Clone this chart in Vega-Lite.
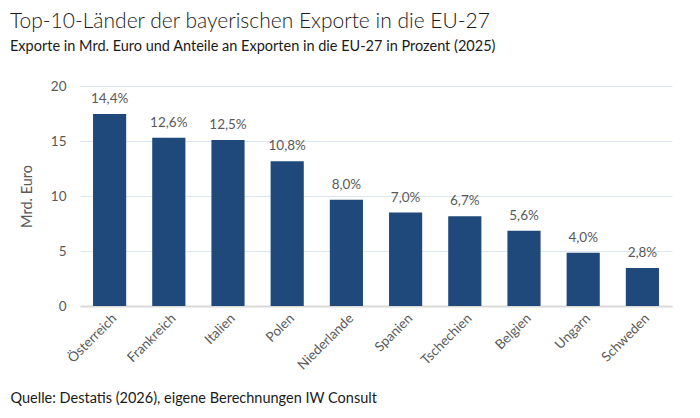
{
  "$schema": "https://vega.github.io/schema/vega-lite/v6.json",
  "width": 592,
  "height": 220,
  "autosize": {"type": "none"},
  "padding": {"left": 80, "top": 86, "right": 28, "bottom": 112},
  "background": "white",
  "config": {
    "font": "Lato",
    "view": {"stroke": null}
  },
  "title": {
    "text": "Top-10-Länder der bayerischen Exporte in die EU-27",
    "subtitle": "Exporte in Mrd. Euro und Anteile an Exporten in die EU-27 in Prozent (2025)",
    "anchor": "start",
    "frame": "group",
    "dx": -70,
    "offset": 26,
    "fontSize": 21,
    "fontWeight": 300,
    "color": "#1a1a1a",
    "subtitleFontSize": 14.5,
    "subtitleColor": "#1a1a1a",
    "subtitlePadding": 8
  },
  "data": {
    "values": [
      {"Land": "Österreich", "Exporte": 17.45, "Anteil": "14,4%"},
      {"Land": "Frankreich", "Exporte": 15.3, "Anteil": "12,6%"},
      {"Land": "Italien", "Exporte": 15.1, "Anteil": "12,5%"},
      {"Land": "Polen", "Exporte": 13.15, "Anteil": "10,8%"},
      {"Land": "Niederlande", "Exporte": 9.65, "Anteil": "8,0%"},
      {"Land": "Spanien", "Exporte": 8.5, "Anteil": "7,0%"},
      {"Land": "Tschechien", "Exporte": 8.15, "Anteil": "6,7%"},
      {"Land": "Belgien", "Exporte": 6.85, "Anteil": "5,6%"},
      {"Land": "Ungarn", "Exporte": 4.85, "Anteil": "4,0%"},
      {"Land": "Schweden", "Exporte": 3.45, "Anteil": "2,8%"}
    ]
  },
  "encoding": {
    "x": {
      "field": "Land",
      "type": "nominal",
      "sort": null,
      "scale": {"paddingInner": 0.44, "paddingOuter": 0.22},
      "axis": {
        "title": "Quelle: Destatis (2026), eigene Berechnungen IW Consult",
        "titleAnchor": "start",
        "titleAlign": "left",
        "titleX": -70,
        "titleY": 92,
        "titleBaseline": "middle",
        "titleFontSize": 14.5,
        "titleFontWeight": "normal",
        "titleColor": "#1a1a1a",
        "labelAngle": -45,
        "labelFontSize": 13.5,
        "labelColor": "#595959",
        "labelPadding": 5,
        "ticks": false,
        "domainColor": "#d9d9d9",
        "domainWidth": 2
      }
    },
    "y": {
      "field": "Exporte",
      "type": "quantitative",
      "scale": {"domain": [0, 20]},
      "axis": {
        "title": "Mrd. Euro",
        "titleFontSize": 14.5,
        "titleFontWeight": "normal",
        "titleColor": "#595959",
        "titlePadding": 16,
        "values": [0, 5, 10, 15, 20],
        "labelFontSize": 13.5,
        "labelColor": "#595959",
        "labelPadding": 14,
        "domain": false,
        "ticks": false,
        "gridColor": "#dce6f2",
        "gridWidth": 1
      }
    }
  },
  "layer": [
    {"mark": {"type": "bar", "color": "#1f487b"}},
    {
      "mark": {"type": "text", "baseline": "bottom", "dy": -8, "fontSize": 13.5, "color": "#595959"},
      "encoding": {"text": {"field": "Anteil"}}
    }
  ]
}
